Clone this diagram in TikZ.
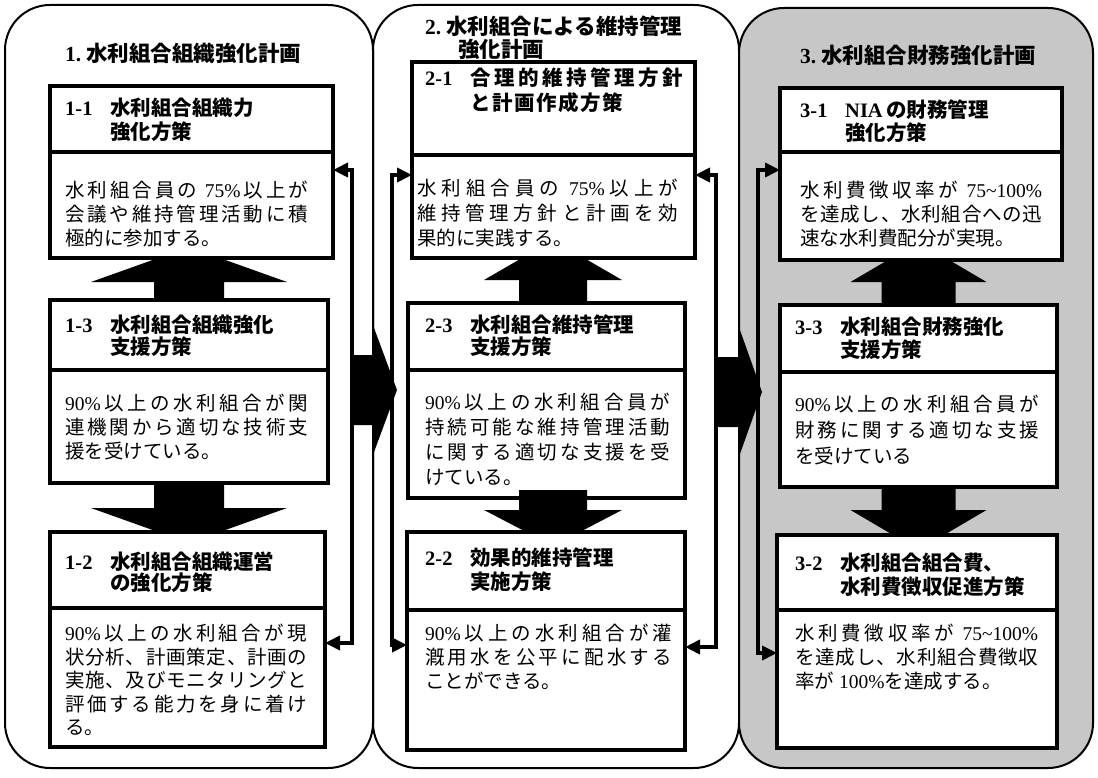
\documentclass[tikz,border=0pt]{standalone}
\usepackage{fontspec}
\setmainfont{Noto Sans CJK JP}
\newfontfamily\lat{Liberation Serif}
\usetikzlibrary{calc,arrows.meta}
\pgfdeclarelayer{back}
\pgfsetlayers{back,main}
\makeatletter
\newcommand\jline[2]{\makebox[#1][s]{\@tfor\jtok:=#2\do{{\jtok}\hskip 0pt plus 1fil}\unskip}}
\makeatother
\newcommand\hd[3]{\makebox[45pt][l]{\lat #1}#2\\\hspace*{45pt}#3}
\newcommand\blockarrow[5]{%
  \coordinate (ba) at ($(#2)!#5!(#1)$);
  \fill[blk] ($(#1)!#3!90:(#2)$) -- ($(ba)!#3!-90:(#1)$) -- ($(ba)!#4!-90:(#1)$) -- (#2)
    -- ($(ba)!#4!90:(#1)$) -- ($(ba)!#3!90:(#1)$) -- ($(#1)!#3!-90:(#2)$) -- cycle;}
\begin{document}
\begin{tikzpicture}[x=1pt,y=-1pt,
  panel/.style={draw, line width=2pt, rounded corners=45pt},
  cell/.style={draw, line width=3.5pt, fill=white, inner sep=0pt, outer sep=0pt, anchor=north west},
  hdr/.style={font=\bfseries\fontsize{20.5}{24}\selectfont, align=left, inner sep=0pt, anchor=north west},
  body/.style={font=\fontsize{19.5}{24}\selectfont, align=left, inner sep=0pt, anchor=north west},
  ttl/.style={font=\bfseries\fontsize{21.5}{23}\selectfont, align=left, inner sep=0pt},
  fb/.style={line width=4.5pt, {Triangle[length=15pt,width=14pt]}-{Triangle[length=15pt,width=14pt]}},
  blk/.style={fill=black}]
\useasboundingbox (0,0) rectangle (1098,778);

% titles
\node[ttl, anchor=west] (T1) at (65,53) {{\lat 1.}\ 水利組合組織強化計画};
\node[ttl, anchor=north west] (T2) at (425,16) {{\lat 2.}\ 水利組合による維持管理\\\hspace*{33pt}強化計画};
\node[ttl, anchor=west] (T3) at (800,55) {{\lat 3.}\ 水利組合財務強化計画};

% boxes
\node[cell, minimum width=283pt, minimum height=66pt] (h11) at (50,86) {};
\node[cell, minimum width=283pt, minimum height=106pt] (t11) at (50,152) {};
\node[cell, minimum width=278pt, minimum height=70pt] (h13) at (50,300) {};
\node[cell, minimum width=278pt, minimum height=113pt] (t13) at (50,370) {};
\node[cell, minimum width=275pt, minimum height=76pt] (h12) at (50,532) {};
\node[cell, minimum width=275pt, minimum height=139pt] (t12) at (50,608) {};

\node[cell, minimum width=283pt, minimum height=93pt] (h21) at (412,62) {};
\node[cell, minimum width=283pt, minimum height=103pt] (t21) at (412,155) {};
\node[cell, minimum width=277pt, minimum height=67pt] (h23) at (408,303) {};
\node[cell, minimum width=277pt, minimum height=128pt] (t23) at (408,370) {};
\coordinate (p2ds) at ($(t23.south)+(6.5,-8)$);
\coordinate (p2de) at ($(t23.south)+(6.5,48)$);
\blockarrow{p2ds}{p2de}{34pt}{69pt}{36pt}
\node[cell, minimum width=278pt, minimum height=78pt] (h22) at (407,532) {};
\node[cell, minimum width=278pt, minimum height=140pt] (t22) at (407,610) {};

\node[cell, minimum width=282pt, minimum height=64pt] (h31) at (780,88) {};
\node[cell, minimum width=282pt, minimum height=108pt] (t31) at (780,152) {};
\node[cell, minimum width=277pt, minimum height=67pt] (h33) at (780,305) {};
\node[cell, minimum width=277pt, minimum height=115pt] (t33) at (780,372) {};
\node[cell, minimum width=280pt, minimum height=75pt] (h32) at (777,535) {};
\node[cell, minimum width=280pt, minimum height=138pt] (t32) at (777,610) {};

% headers
\node[hdr] (x11) at (65,98) {\hd{1-1}{水利組合組織力}{強化方策}};
\node[hdr, font=\bfseries\fontsize{20.5}{22}\selectfont] (x13) at (65,315) {\hd{1-3}{水利組合組織強化}{支援方策}};
\node[hdr, font=\bfseries\fontsize{20.5}{21}\selectfont] (x12) at (65,552) {\hd{1-2}{水利組合組織運営}{の強化方策}};
\node[hdr, font=\bfseries\fontsize{20.5}{25}\selectfont] (x21) at (425,68) {\hd{2-1}{\jline{213pt}{合理的維持管理方針}}{\jline{153pt}{と計画作成方策}}};
\node[hdr, font=\bfseries\fontsize{20.5}{22}\selectfont] (x23) at (425,315) {\hd{2-3}{水利組合維持管理}{支援方策}};
\node[hdr] (x22) at (425,548) {\hd{2-2}{効果的維持管理}{実施方策}};
\node[hdr, font=\bfseries\fontsize{20.5}{23}\selectfont] (x31) at (800,100) {\hd{3-1}{{\lat NIA}\,の財務管理}{強化方策}};
\node[hdr, font=\bfseries\fontsize{20.5}{23}\selectfont] (x33) at (795,317) {\hd{3-3}{水利組合財務強化}{支援方策}};
\node[hdr] (x32) at (795,553) {\hd{3-2}{水利組合組合費、}{水利費徴収促進方策}};

% body texts
\node[body] (y11) at (65,181) {\jline{243pt}{水利組合員の{\lat\ 75\%}以上が}\\\jline{243pt}{会議や維持管理活動に積}\\極的に参加する。};
\node[body] (y13) at (65,394) {\jline{243pt}{{\lat 90\%}以上の水利組合が関}\\\jline{243pt}{連機関から適切な技術支}\\援を受けている。};
\node[body, font=\fontsize{19.5}{23.5}\selectfont] (y12) at (65,624) {\jline{242pt}{{\lat 90\%}以上の水利組合が現}\\\jline{242pt}{状分析、計画策定、計画の}\\\jline{242pt}{実施、及びモニタリングと}\\\jline{242pt}{評価する能力を身に着け}\\る。};
\node[body, font=\fontsize{19.5}{25}\selectfont] (y21) at (417,179) {\jline{261pt}{水利組合員の{\lat\ 75\%}以上が}\\\jline{261pt}{維持管理方針と計画を効}\\果的に実践する。};
\node[body, font=\fontsize{19.5}{25}\selectfont] (y23) at (425,393) {\jline{245pt}{{\lat 90\%}以上の水利組合員が}\\\jline{245pt}{持続可能な維持管理活動}\\\jline{245pt}{に関する適切な支援を受}\\けている。};
\node[body] (y22) at (425,624) {\jline{247pt}{{\lat 90\%}以上の水利組合が灌}\\\jline{247pt}{漑用水を公平に配水する}\\ことができる。};
\node[body] (y31) at (800,181) {\jline{242pt}{水利費徴収率が{\lat\ 75\textasciitilde 100\%}}\\\jline{242pt}{を達成し、水利組合への迅}\\速な水利費配分が実現。};
\node[body, font=\fontsize{19.5}{26}\selectfont] (y33) at (795,395) {\jline{244pt}{{\lat 90\%}以上の水利組合員が}\\\jline{244pt}{財務に関する適切な支援}\\を受けている};
\node[body] (y32) at (795,624) {\jline{243pt}{水利費徴収率が{\lat\ 75\textasciitilde 100\%}}\\\jline{243pt}{を達成し、水利組合費徴収}\\率が{\lat\ 100\%}を達成する。};

% feedback loops
\coordinate (f1a) at (352,170); \coordinate (f1b) at (352,643);
\coordinate (f2a) at (392,175); \coordinate (f2b) at (392,645);
\coordinate (f3a) at (716,175); \coordinate (f3b) at (716,647);
\coordinate (f4a) at (758,170); \coordinate (f4b) at (758,653);
\draw[fb] (f1a -| t11.east) -- (f1a) -- (f1b) -- (f1b -| t12.east);
\draw[fb] (f2a -| t21.west) -- (f2a) -- (f2b) -- (f2b -| t22.west);
\draw[fb] (f3a -| t21.east) -- (f3a) -- (f3b) -- (f3b -| t22.east);
\draw[fb] (f4a -| t31.west) -- (f4a) -- (f4b) -- (f4b -| t32.west);

\begin{pgfonlayer}{back}
\fill[white] (0,0) rectangle (1098,778);
\draw[panel] (5,5) rectangle (373,768);
\draw[panel] (373,5) rectangle (739,768);
\draw[panel, fill=black!22] (739,8) rectangle (1093,768);
% horizontal block arrows
\coordinate (a12s) at (352,390); \coordinate (a12e) at (397,390);
\blockarrow{a12s}{a12e}{35pt}{67.5pt}{25pt}
\coordinate (a23s) at (716,392); \coordinate (a23e) at (762,392);
\blockarrow{a23s}{a23e}{35pt}{67.5pt}{24pt}
% vertical block arrows
\coordinate (p1u) at ($(h13.north |- t11.south)+(0,-11)$);
\blockarrow{h13.north}{p1u}{35pt}{98pt}{35pt}
\coordinate (p1d) at ($(t13.south |- h12.north)+(0,11)$);
\blockarrow{t13.south}{p1d}{35pt}{98pt}{35pt}
\coordinate (p2us) at ($(h23.north)+(6.5,0)$);
\coordinate (p2ue) at ($(h23.north |- t21.south)+(6.5,-18)$);
\blockarrow{p2us}{p2ue}{34pt}{69pt}{40pt}
\coordinate (p3ue) at ($(h33.north |- t31.south)+(0,-18)$);
\blockarrow{h33.north}{p3ue}{37pt}{68pt}{40pt}
\coordinate (p3de) at ($(t33.south |- h32.north)+(0,15)$);
\blockarrow{t33.south}{p3de}{37pt}{68pt}{40pt}
\end{pgfonlayer}
\end{tikzpicture}
\end{document}
